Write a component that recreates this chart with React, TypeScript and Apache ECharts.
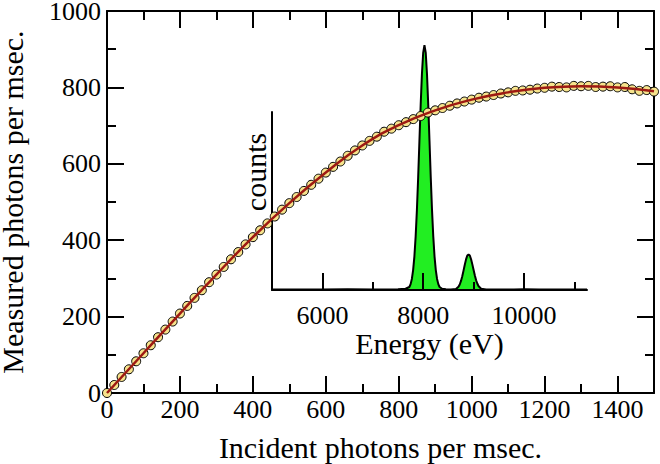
import React, { useEffect, useRef } from 'react';
import * as echarts from 'echarts';

// Main curve: incident vs measured photons per msec.
const incident = [
  0, 20, 40, 60, 80, 100, 120, 140, 160, 180, 200, 220, 240, 260, 280, 300, 320, 340, 360, 380,
  400, 420, 440, 460, 480, 500, 520, 540, 560, 580, 600, 620, 640, 660, 680, 700, 720, 740, 760, 780,
  800, 820, 840, 860, 880, 900, 920, 940, 960, 980, 1000, 1020, 1040, 1060, 1080, 1100, 1120, 1140, 1160, 1180,
  1200, 1220, 1240, 1260, 1280, 1300, 1320, 1340, 1360, 1380, 1400, 1420, 1440, 1460, 1480, 1500,
];
const measured = [
  0, 21, 42, 62, 83, 104, 125, 146, 166, 187, 208, 228, 249, 269, 290, 310, 330, 350, 369, 389,
  408, 426, 444, 462, 480, 497, 513, 529, 545, 561, 577, 592, 606, 621, 635, 648, 660, 671, 684, 692,
  701, 709, 717, 725, 734, 740, 746, 752, 758, 763, 768, 773, 776, 780, 784, 787, 791, 792, 794, 797,
  799, 802, 801, 800, 804, 803, 804, 801, 802, 803, 800, 801, 795, 791, 793, 789,
];
const fitIncident = [0, 100, 200, 300, 400, 500, 600, 700, 800, 900, 1000, 1100, 1200, 1300, 1400, 1500];
const fitMeasured = [0, 104, 208, 310, 408, 497, 577, 648, 701, 740, 768, 787, 799, 803, 800, 790];

// Inset spectrum: energy (eV) vs counts (relative; 1 = top of inset axis)
const energy = [
  5000, 5500, 6000, 6500, 7000, 7300, 7500, 7650, 7725, 7750, 7775, 7800, 7825, 7850, 7875, 7900,
  7925, 7950, 7975, 8000, 8025, 8050, 8075, 8100, 8125, 8150, 8175, 8200, 8225, 8250, 8275, 8300,
  8325, 8375, 8450, 8550, 8650, 8700, 8725, 8750, 8775, 8800, 8825, 8850, 8875, 8900, 8925, 8950,
  8975, 9000, 9025, 9050, 9075, 9100, 9150, 9250, 9500, 9800, 10000, 10300, 10600, 11000, 11250,
];
const counts = [
  0.003, 0.003, 0.003, 0.004, 0.003, 0.003, 0.004, 0.007, 0.017, 0.033, 0.062, 0.112, 0.188, 0.3, 0.449, 0.632,
  0.837, 1.04, 1.215, 1.334, 1.376, 1.334, 1.215, 1.04, 0.837, 0.632, 0.449, 0.3, 0.188, 0.112, 0.062, 0.033,
  0.017, 0.007, 0.004, 0.003, 0.005, 0.018, 0.031, 0.051, 0.077, 0.109, 0.142, 0.172, 0.194, 0.2, 0.194, 0.173,
  0.144, 0.112, 0.081, 0.055, 0.035, 0.021, 0.007, 0.003, 0.003, 0.003, 0.004, 0.003, 0.003, 0.003, 0.003,
];

const mainXMajor = [0, 200, 400, 600, 800, 1000, 1200, 1400];
const mainXMinor = [100, 300, 500, 700, 900, 1100, 1300];
const insetXMajor = [6000, 8000, 10000];
const insetXMinor = [7000, 9000, 11000];

const FONT = "'Liberation Serif', 'Times New Roman', serif";
const BLACK = '#000';

export default function App() {
  const ref = useRef<HTMLDivElement>(null);
  useEffect(() => {
    const chart = echarts.init(ref.current!, null, { renderer: 'svg' });
    const line = { show: true, onZero: false, lineStyle: { color: BLACK, width: 2 } };
    const noLine = { show: false, onZero: false };
    const tick = (len: number, values: number[]) => ({
      show: true,
      inside: true,
      length: len,
      customValues: values,
      lineStyle: { color: BLACK, width: 2 },
    });
    const fmt = (v: number) => String(v);
    const label = { fontFamily: FONT, fontSize: 26, color: BLACK, formatter: fmt };
    const nameStyle = { fontFamily: FONT, fontSize: 30, color: BLACK };
    const option: any = {
      animation: false,
      backgroundColor: '#fff',
      textStyle: { fontFamily: FONT, color: BLACK },
      grid: [
        { left: 107, right: 6, top: 11, bottom: 71, containLabel: false, outerBoundsMode: 'none' },
        { left: 272, right: 73, top: 112, bottom: 174, containLabel: false, outerBoundsMode: 'none' },
      ],
      xAxis: [
        {
          gridIndex: 0, type: 'value', min: 0, max: 1500, position: 'bottom',
          axisLine: line, axisTick: tick(17, mainXMajor),
          axisLabel: { ...label, margin: 3, customValues: mainXMajor },
          splitLine: { show: false },
          name: 'Incident photons per msec.', nameLocation: 'middle', nameGap: 39,
          nameTextStyle: nameStyle,
        },
        {
          gridIndex: 0, type: 'value', min: 0, max: 1500, position: 'bottom',
          axisLine: noLine, axisTick: tick(9, mainXMinor),
          axisLabel: { show: false }, splitLine: { show: false },
        },
        {
          gridIndex: 0, type: 'value', min: 0, max: 1500, position: 'top',
          axisLine: line, axisTick: tick(17, mainXMajor),
          axisLabel: { show: false }, splitLine: { show: false },
        },
        {
          gridIndex: 0, type: 'value', min: 0, max: 1500, position: 'top',
          axisLine: noLine, axisTick: tick(9, mainXMinor),
          axisLabel: { show: false }, splitLine: { show: false },
        },
        {
          gridIndex: 1, type: 'value', min: 5000, max: 11250, position: 'bottom', z: 3,
          axisLine: line, axisTick: tick(17, insetXMajor),
          axisLabel: { ...label, margin: 12, customValues: insetXMajor },
          splitLine: { show: false },
          name: 'Energy (eV)', nameLocation: 'middle', nameGap: 36,
          nameTextStyle: nameStyle,
        },
        {
          gridIndex: 1, type: 'value', min: 5000, max: 11250, position: 'bottom', z: 3,
          axisLine: noLine, axisTick: tick(8, insetXMinor),
          axisLabel: { show: false }, splitLine: { show: false },
        },
      ],
      yAxis: [
        {
          gridIndex: 0, type: 'value', min: 0, max: 1000, interval: 200, position: 'left',
          axisLine: line,
          axisTick: { show: true, inside: true, length: 17, lineStyle: { color: BLACK, width: 2 } },
          minorTick: { show: true, splitNumber: 2, length: 9, lineStyle: { color: BLACK, width: 2 } },
          axisLabel: { ...label, margin: 6 },
          splitLine: { show: false }, minorSplitLine: { show: false },
          name: 'Measured photons per msec.', nameLocation: 'middle', nameGap: 80,
          nameTextStyle: nameStyle,
        },
        {
          gridIndex: 0, type: 'value', min: 0, max: 1000, interval: 200, position: 'right',
          axisLine: line,
          axisTick: { show: true, inside: true, length: 17, lineStyle: { color: BLACK, width: 2 } },
          minorTick: { show: true, splitNumber: 2, length: 9, lineStyle: { color: BLACK, width: 2 } },
          axisLabel: { show: false },
          splitLine: { show: false }, minorSplitLine: { show: false },
        },
        {
          gridIndex: 1, type: 'value', min: 0, max: 1, position: 'left', z: 3,
          axisLine: line, axisTick: { show: false }, axisLabel: { show: false },
          splitLine: { show: false },
        },
      ],
      graphic: [
        {
          type: 'text', x: 255, y: 172, rotation: Math.PI / 2, z: 10,
          style: {
            text: 'counts', fontFamily: FONT, fontSize: 30, fill: BLACK,
            align: 'center', verticalAlign: 'middle',
          },
        },
      ],
      series: [
        {
          type: 'line', xAxisIndex: 4, yAxisIndex: 2, z: 2, clip: false,
          data: energy.map((e, i) => [e, counts[i]]),
          symbol: 'none', smooth: false,
          lineStyle: { color: BLACK, width: 2 },
          areaStyle: { color: '#22ee22', opacity: 1 },
        },
        {
          type: 'scatter', xAxisIndex: 0, yAxisIndex: 0, z: 4,
          data: incident.map((x, i) => [x, measured[i]]),
          symbol: 'circle', symbolSize: 9,
          itemStyle: { color: '#f6e38c', borderColor: BLACK, borderWidth: 1, opacity: 1 },
        },
        {
          type: 'line', xAxisIndex: 0, yAxisIndex: 0, z: 5,
          data: fitIncident.map((x, i) => [x, fitMeasured[i]]),
          symbol: 'none', smooth: true,
          lineStyle: { color: '#9e1a12', width: 2.5 },
        },
      ],
    };
    chart.setOption(option);
    return () => chart.dispose();
  }, []);
  return <div ref={ref} style={{ position: 'fixed', left: 0, top: 0, width: 660, height: 464 }} />;
}
